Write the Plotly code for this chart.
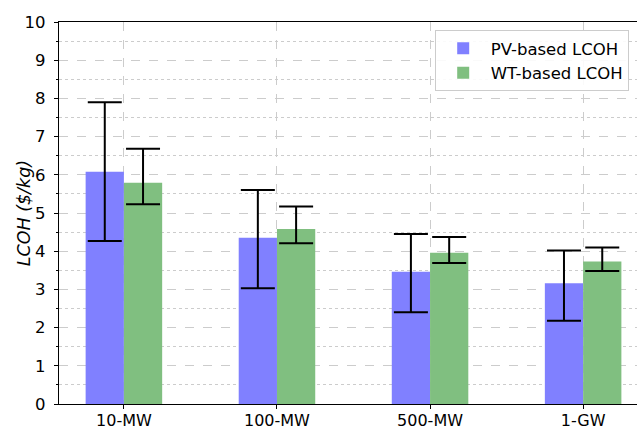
import plotly.graph_objects as go

# LCOH by plant scale
scales = ["10-MW", "100-MW", "500-MW", "1-GW"]
pv_lcoh = [6.08, 4.35, 3.46, 3.16]
pv_high = [7.90, 5.60, 4.45, 4.02]
pv_low = [4.27, 3.03, 2.40, 2.18]
wt_lcoh = [5.79, 4.58, 3.96, 3.73]
wt_high = [6.68, 5.17, 4.37, 4.10]
wt_low = [5.23, 4.21, 3.69, 3.48]

x_idx = list(range(len(scales)))


def err(vals, hi, lo):
    return ([h - v for v, h in zip(vals, hi)], [v - l for v, l in zip(vals, lo)])


pv_up, pv_dn = err(pv_lcoh, pv_high, pv_low)
wt_up, wt_dn = err(wt_lcoh, wt_high, wt_low)

err_style = dict(type="data", symmetric=False, color="black", thickness=2, width=17)

fig = go.Figure()
fig.add_trace(go.Bar(
    x=x_idx, y=pv_lcoh, name="PV-based LCOH",
    marker=dict(color="rgb(128,128,255)", line=dict(width=0)),
    error_y=dict(array=pv_up, arrayminus=pv_dn, **err_style),
))
fig.add_trace(go.Bar(
    x=x_idx, y=wt_lcoh, name="WT-based LCOH",
    marker=dict(color="rgb(128,191,128)", line=dict(width=0)),
    error_y=dict(array=wt_up, arrayminus=wt_dn, **err_style),
))

font_family = "DejaVu Sans, sans-serif"
grid_color = "rgb(204,204,204)"

fig.update_layout(
    width=637, height=430,
    margin=dict(l=59, r=0, t=22, b=26),
    plot_bgcolor="white", paper_bgcolor="white",
    barmode="group", bargap=0.5, bargroupgap=0,
    font=dict(family=font_family, size=16.5, color="black"),
    legend=dict(
        x=0.65, y=0.979, xanchor="left", yanchor="top",
        bgcolor="rgba(255,255,255,0.9)", bordercolor="rgb(204,204,204)", borderwidth=1,
        font=dict(size=16.5), itemwidth=45, tracegroupgap=0,
    ),
    showlegend=True,
    annotations=[dict(
        text="<i>LCOH ($/kg)</i>", textangle=-90,
        xref="paper", yref="paper", x=-0.06, y=0.5,
        xanchor="center", yanchor="middle", showarrow=False,
        font=dict(size=17.5),
    )],
)

fig.update_xaxes(
    range=[-0.424, 3.352], automargin=False,
    tickmode="array", tickvals=x_idx, ticktext=scales,
    showline=True, linecolor="black", linewidth=1.2, mirror=True,
    ticks="outside", ticklen=4, tickcolor="black",
    ticklabelstandoff=-2,
    showgrid=True, gridcolor=grid_color, griddash="dash", gridwidth=1,
    zeroline=False,
    tickfont=dict(size=16),
)
fig.update_yaxes(
    range=[0, 10], dtick=1, tick0=0, automargin=False,
    showline=True, linecolor="black", linewidth=1.2, mirror=False,
    ticks="outside", ticklen=4, tickcolor="black",
    ticklabelstandoff=5,
    showgrid=True, gridcolor=grid_color, griddash="dash", gridwidth=1,
    minor=dict(dtick=0.5, ticks="outside", ticklen=2, tickcolor="black",
               showgrid=True, gridcolor=grid_color, griddash="dot", gridwidth=1),
    zeroline=False,
    tickfont=dict(size=16.5),
)

fig.write_html("out.html")
